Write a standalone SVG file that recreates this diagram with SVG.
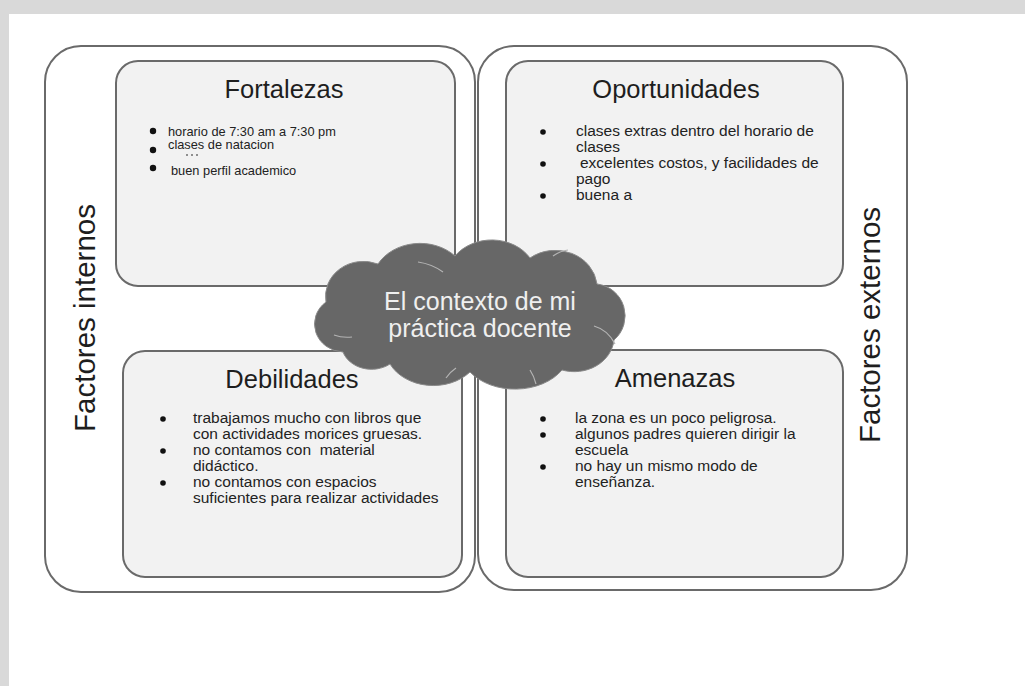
<svg xmlns="http://www.w3.org/2000/svg" width="1025" height="686" viewBox="0 0 1025 686">
<style>
.outer{fill:#ffffff;stroke:#6a6a6a;stroke-width:2}
.inner{fill:#f2f2f2;stroke:#6a6a6a;stroke-width:2}
.title{font-family:"Liberation Sans",Arial,sans-serif;font-size:25.5px;fill:#1e1e1e;text-anchor:middle}
.side{font-family:"Liberation Sans",Arial,sans-serif;font-size:29.5px;fill:#1e1e1e;text-anchor:middle}
.small{font-family:"Liberation Sans",Arial,sans-serif;font-size:12.8px;fill:#222}
.body{font-family:"Liberation Sans",Arial,sans-serif;font-size:15.5px;fill:#222}
.bul{fill:#111}
.cloudtxt{font-family:"Liberation Sans",Arial,sans-serif;font-size:25px;fill:#efefef;text-anchor:middle}
.arc{fill:none;stroke:#b4b4b4;stroke-width:1.2}
</style>
<rect x="0" y="0" width="1025" height="686" fill="#ffffff"/>
<rect x="0" y="0" width="1025" height="14" fill="#d9d9d9"/>
<rect x="0" y="0" width="9" height="686" fill="#d9d9d9"/>

<g id="factores-internos">
<rect class="outer" x="45" y="46" width="430" height="546" rx="36"/>
<text class="side" transform="translate(95,318) rotate(-90)">Factores internos</text>
</g>
<g id="factores-externos">
<rect class="outer" x="478" y="46" width="429" height="544" rx="36"/>
<text class="side" transform="translate(880,325) rotate(-90)">Factores externos</text>
</g>

<g id="fortalezas">
<rect class="inner" x="116" y="61" width="339" height="225" rx="22"/>
<text class="title" x="284" y="98">Fortalezas</text>
<circle class="bul" cx="153" cy="131" r="3.2"/>
<text class="small" x="168" y="136">horario de 7:30 am a 7:30 pm</text>
<circle class="bul" cx="153" cy="150" r="3.2"/>
<text class="small" x="168" y="149">clases de natacion</text>
<circle class="bul" cx="187" cy="155" r="0.8"/>
<circle class="bul" cx="192" cy="155" r="0.8"/>
<circle class="bul" cx="197" cy="155" r="0.8"/>
<circle class="bul" cx="153" cy="168" r="3.2"/>
<text class="small" x="171" y="175">buen perfil academico</text>
</g>

<g id="oportunidades">
<rect class="inner" x="506" y="61" width="337" height="225" rx="22"/>
<text class="title" x="676" y="98">Oportunidades</text>
<circle class="bul" cx="543" cy="132" r="2.8"/>
<text class="body" x="576" y="136">clases extras dentro del horario de</text>
<text class="body" x="576" y="152">clases</text>
<circle class="bul" cx="543" cy="164" r="2.8"/>
<text class="body" x="580" y="168">excelentes costos, y facilidades de</text>
<text class="body" x="576" y="184">pago</text>
<circle class="bul" cx="543" cy="196" r="2.8"/>
<text class="body" x="576" y="200">buena a</text>
</g>

<g id="debilidades">
<rect class="inner" x="123" y="351" width="339" height="226" rx="22"/>
<text class="title" x="292" y="388">Debilidades</text>
<circle class="bul" cx="163" cy="419" r="2.8"/>
<text class="body" x="193" y="423">trabajamos mucho con libros que</text>
<text class="body" x="193" y="439">con actividades morices gruesas.</text>
<circle class="bul" cx="163" cy="451" r="2.8"/>
<text class="body" x="193" y="455" xml:space="preserve">no contamos con  material</text>
<text class="body" x="193" y="471">didáctico.</text>
<circle class="bul" cx="163" cy="483" r="2.8"/>
<text class="body" x="193" y="487">no contamos con espacios</text>
<text class="body" x="193" y="503">suficientes para realizar actividades</text>
</g>

<g id="amenazas">
<rect class="inner" x="506" y="350" width="337" height="227" rx="22"/>
<text class="title" x="675" y="387">Amenazas</text>
<circle class="bul" cx="543" cy="419" r="2.8"/>
<text class="body" x="575" y="423">la zona es un poco peligrosa.</text>
<circle class="bul" cx="543" cy="435" r="2.8"/>
<text class="body" x="575" y="439">algunos padres quieren dirigir la</text>
<text class="body" x="575" y="455">escuela</text>
<circle class="bul" cx="543" cy="467" r="2.8"/>
<text class="body" x="575" y="471">no hay un mismo modo de</text>
<text class="body" x="575" y="487">enseñanza.</text>
</g>

<g id="cloud">
<path fill="#676767" stroke="#8a8a8a" stroke-width="1" d="M 343,352 A 30,28 0 0 1 326,302 A 38,35 0 0 1 378,264 A 48,40 0 0 1 455,256 A 45,38 0 0 1 530,258 A 42,38 0 0 1 597,284 A 32,32 0 0 1 614,340 A 40,35 0 0 1 562,370 A 55,40 0 0 1 470,372 A 48,38 0 0 1 390,364 A 30,25 0 0 1 343,352 Z"/>
<path class="arc" d="M 418,262 Q 432,264 443,272"/>
<path class="arc" d="M 553,256 Q 560,251 568,250"/>
<path class="arc" d="M 594,326 Q 608,330 615,344"/>
<path class="arc" d="M 334,335 Q 342,338 352,337"/>
<path class="arc" d="M 446,378 Q 450,372 456,368"/>
<path class="arc" d="M 530,370 Q 534,376 536,384"/>
<text class="cloudtxt" x="480" y="310">El contexto de mi</text>
<text class="cloudtxt" x="480" y="337">práctica docente</text>
</g>

<g id="connectors"/>
</svg>
